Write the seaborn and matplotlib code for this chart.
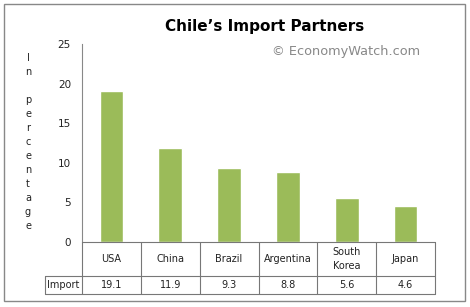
import matplotlib
matplotlib.use("Agg")
import matplotlib.pyplot as plt
import seaborn as sns
import pandas as pd

# data
countries = ["USA", "China", "Brazil", "Argentina", "South\nKorea", "Japan"]
imports = [19.1, 11.9, 9.3, 8.8, 5.6, 4.6]
row_label = "Import"
yticks = [0, 5, 10, 15, 20, 25]

df = pd.DataFrame({"country": countries, "value": imports})

sns.set_style("white")
plt.rcParams["font.family"] = ["DejaVu Sans"]

W, H = 470, 307
fig = plt.figure(figsize=(W / 100, H / 100), dpi=100)

# axes box in pixel coords -> figure fractions
x0, x1, y_top, y_bot = 82, 435, 44, 242
ax = fig.add_axes([x0 / W, 1 - y_bot / H, (x1 - x0) / W, (y_bot - y_top) / H])

sns.barplot(data=df, x="country", y="value", color="#9BBB59", width=0.4,
            saturation=1, ax=ax)
ax.set_xlim(-0.5, len(countries) - 0.5)
ax.set_ylim(0, 25)
ax.set_yticks(yticks)
ax.set_yticklabels([str(t) for t in yticks], fontsize=7.5, color="#222222")
ax.tick_params(axis="y", length=0, pad=8)
ax.set_xticks([])
ax.set_xlabel("")
ax.set_ylabel("")
for s in ["top", "right", "bottom"]:
    ax.spines[s].set_visible(False)
ax.spines["left"].set_color("#888888")
ax.spines["left"].set_linewidth(0.8)

# data table below the axes, drawn in figure pixel coordinates
def fx(px):
    return px / W

def fy(py):
    return 1 - py / H

line_kw = dict(color="#777777", linewidth=0.8, transform=fig.transFigure)
col_w = (x1 - x0) / len(countries)
row1, row2, row3 = 242, 276, 294
fig.add_artist(plt.Line2D([fx(x0), fx(x1)], [fy(row1), fy(row1)], **line_kw))
fig.add_artist(plt.Line2D([fx(45), fx(x1)], [fy(row2), fy(row2)], **line_kw))
fig.add_artist(plt.Line2D([fx(45), fx(x1)], [fy(row3), fy(row3)], **line_kw))
fig.add_artist(plt.Line2D([fx(45), fx(45)], [fy(row2), fy(row3)], **line_kw))
for i in range(len(countries) + 1):
    xp = x0 + i * col_w
    fig.add_artist(plt.Line2D([fx(xp), fx(xp)], [fy(row1), fy(row3)], **line_kw))

for i, (c, v) in enumerate(zip(countries, imports)):
    xc = x0 + (i + 0.5) * col_w
    fig.text(fx(xc), fy((row1 + row2) / 2), c, ha="center", va="center",
             fontsize=7, color="#222222", linespacing=1.6)
    fig.text(fx(xc), fy((row2 + row3) / 2), f"{v}", ha="center", va="center",
             fontsize=7, color="#222222")
fig.text(fx(63.5), fy((row2 + row3) / 2), row_label, ha="center", va="center",
         fontsize=7, color="#222222")

# vertical stacked y label
fig.text(fx(28), fy(142), "\n".join("In percentage"), ha="center", va="center",
         fontsize=7, color="#222222", linespacing=1.5)

# title and watermark
fig.text(fx(265), fy(26), "Chile’s Import Partners", ha="center", va="center",
         fontsize=11, fontweight="bold", color="black")
fig.text(fx(346), fy(52), "© EconomyWatch.com", ha="center", va="center",
         fontsize=9.3, color="#888888")

# outer border
fig.add_artist(plt.Rectangle((fx(4), fy(301)), fx(465) - fx(4), fy(4) - fy(301),
                             fill=False, edgecolor="#888888", linewidth=1,
                             transform=fig.transFigure))

fig.savefig("out.png", dpi=100)
